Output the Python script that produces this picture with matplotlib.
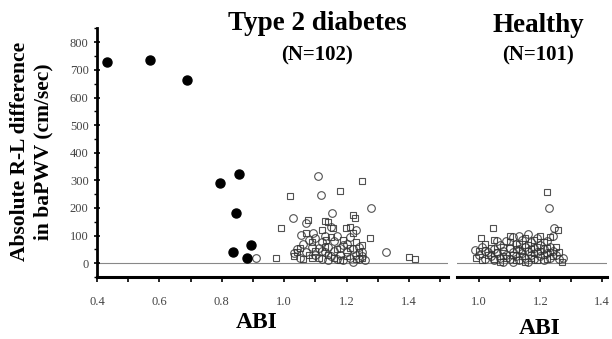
import numpy as np
import matplotlib
matplotlib.use('Agg')
import matplotlib.pyplot as plt
from matplotlib.ticker import MultipleLocator, FixedLocator

plt.rcParams['font.family'] = ['Liberation Serif', 'DejaVu Serif']

# type 2 diabetes, ABI < 0.9 (filled)
dm_low_x = [0.432, 0.571, 0.688, 0.795, 0.855, 0.844, 0.837, 0.894, 0.880]
dm_low_y = [729, 735, 664, 290, 322, 183, 42, 65, 18]

# type 2 diabetes, open circles
dm_circ_x = [0.911, 1.108, 1.118, 1.279, 1.028, 1.327, 1.153, 1.071, 1.055, 1.092,
             1.03, 1.04, 1.05, 1.06, 1.07, 1.08, 1.09, 1.10, 1.10, 1.11,
             1.12, 1.12, 1.13, 1.13, 1.14, 1.14, 1.15, 1.15, 1.16, 1.16,
             1.17, 1.18, 1.18, 1.19, 1.20, 1.20, 1.21, 1.21, 1.22, 1.22,
             1.23, 1.23, 1.24, 1.24, 1.25, 1.25, 1.26, 1.17, 1.12, 1.19]
dm_circ_y = [18, 316, 247, 199, 163, 42, 181, 145, 103, 109,
             35, 50, 20, 70, 40, 85, 60, 30, 90, 55,
             15, 75, 40, 100, 10, 60, 25, 130, 45, 80,
             15, 55, 30, 10, 40, 70, 20, 95, 50, 5,
             30, 120, 15, 60, 40, 25, 10, 100, 45, 65]

# type 2 diabetes, open squares
dm_sq_x = [0.975, 1.02, 1.18, 1.25, 0.991, 1.274, 1.40, 1.418, 1.22, 1.226,
           1.199, 1.157, 1.13, 1.076, 1.135,
           1.03, 1.04, 1.05, 1.06, 1.07, 1.08, 1.09, 1.10, 1.11, 1.12,
           1.13, 1.14, 1.15, 1.16, 1.17, 1.18, 1.19, 1.20, 1.21, 1.22,
           1.23, 1.23, 1.24, 1.25, 1.25, 1.14, 1.21, 1.09]
dm_sq_y = [18, 244, 262, 296, 127, 91, 24, 14, 175, 163,
           127, 127, 151, 157, 84,
           25, 40, 55, 15, 110, 30, 75, 45, 20, 120,
           60, 30, 95, 20, 50, 10, 85, 25, 55, 110,
           15, 75, 40, 20, 65, 150, 130, 20]

# healthy, open circles
h_circ_x = [0.987, 1.229, 1.245, 1.272,
            1.00, 1.01, 1.02, 1.03, 1.04, 1.05, 1.05, 1.06, 1.07, 1.07,
            1.08, 1.08, 1.09, 1.09, 1.10, 1.10, 1.11, 1.11, 1.12, 1.12,
            1.13, 1.13, 1.14, 1.14, 1.15, 1.15, 1.16, 1.16, 1.17, 1.17,
            1.18, 1.18, 1.19, 1.19, 1.20, 1.20, 1.21, 1.21, 1.22, 1.22,
            1.23, 1.23, 1.24, 1.25, 1.26, 1.06, 1.13, 1.16, 1.24, 1.02, 1.11]
h_circ_y = [48, 199, 127, 18,
            30, 60, 15, 40, 25, 10, 50, 35, 20, 65,
            45, 5, 30, 80, 15, 55, 40, 95, 25, 70,
            10, 50, 35, 85, 20, 60, 5, 45, 30, 75,
            15, 55, 40, 90, 25, 65, 10, 50, 35, 80,
            20, 60, 45, 30, 15, 80, 100, 105, 100, 45, 5]

# healthy, open squares
h_sq_x = [1.22, 1.256, 1.046, 1.009,
          0.99, 1.00, 1.01, 1.02, 1.03, 1.04, 1.05, 1.06, 1.07, 1.08,
          1.09, 1.10, 1.11, 1.12, 1.12, 1.13, 1.14, 1.14, 1.15, 1.15,
          1.16, 1.17, 1.17, 1.18, 1.18, 1.19, 1.19, 1.20, 1.20, 1.21,
          1.21, 1.22, 1.22, 1.23, 1.23, 1.24, 1.25, 1.26, 1.08, 1.10, 1.27, 1.05]
h_sq_y = [259, 121, 127, 91,
          20, 45, 10, 70, 30, 55, 15, 40, 5, 60,
          20, 75, 30, 50, 10, 70, 25, 45, 90, 5,
          65, 20, 50, 85, 35, 10, 60, 45, 100, 30,
          75, 15, 55, 40, 95, 25, 60, 40, 25, 100, 5, 85]

fig = plt.figure(figsize=(6.12, 3.39), dpi=100)
ax1 = fig.add_axes([0.1585, 0.183, 0.5735, 0.733])
ax2 = fig.add_axes([0.7467, 0.183, 0.245, 0.733])

open_kw = dict(linestyle='none', markerfacecolor='none', markeredgecolor='#333333',
               markeredgewidth=0.8, alpha=0.85)

for ax in (ax1, ax2):
    ax.axhline(0, color='#888888', lw=0.8, zorder=1)
    ax.set_ylim(-50, 850)
    for s in ('top', 'right'):
        ax.spines[s].set_visible(False)
    ax.spines['bottom'].set_linewidth(2.2)
    ax.spines['left'].set_linewidth(2.0)
    ax.xaxis.set_major_locator(MultipleLocator(0.1))
    ax.tick_params(axis='x', direction='out', length=3.5, width=1.2,
                   labelsize=9, labelcolor='#444444', pad=10)
    ax.set_facecolor('none')

# diabetes panel
ax1.plot(dm_circ_x, dm_circ_y, 'o', markersize=5.5, **open_kw)
ax1.plot(dm_sq_x, dm_sq_y, 's', markersize=5.0, **open_kw)
ax1.plot(dm_low_x, dm_low_y, 'o', color='black', markersize=6.5)
ax1.set_xlim(0.4, 1.525)
ax1.xaxis.set_major_locator(FixedLocator(np.round(np.arange(0.4, 1.51, 0.1), 1)))
ax1.set_xticklabels(['0.4', '', '0.6', '', '0.8', '', '1.0', '', '1.2', '', '1.4', ''])
ax1.set_yticks(np.arange(0, 801, 100))
ax1.yaxis.set_minor_locator(MultipleLocator(50))
ax1.tick_params(axis='y', which='major', direction='inout', length=5, width=1.2,
                labelsize=9, labelcolor='#444444')
ax1.tick_params(axis='y', which='minor', direction='out', length=2.5, width=1.0)

# healthy panel
ax2.plot(h_circ_x, h_circ_y, 'o', markersize=5.5, **open_kw)
ax2.plot(h_sq_x, h_sq_y, 's', markersize=5.0, **open_kw)
ax2.set_xlim(0.93, 1.415)
ax2.xaxis.set_major_locator(FixedLocator([1.0, 1.1, 1.2, 1.3, 1.4]))
ax2.set_xticklabels(['1.0', '', '1.2', '', '1.4'])
ax2.spines['left'].set_visible(False)
ax2.set_yticks([])

fig.text(0.0515, 0.553, 'Absolute R-L difference\nin baPWV (cm/sec)', rotation=90,
         ha='center', va='center', fontsize=15.5, fontweight='bold', linespacing=1.2)
fig.text(0.518, 0.932, 'Type 2 diabetes', ha='center', va='center',
         fontsize=19.5, fontweight='bold')
fig.text(0.518, 0.835, '(N=102)', ha='center', va='center',
         fontsize=15, fontweight='bold')
fig.text(0.879, 0.925, 'Healthy', ha='center', va='center',
         fontsize=19.5, fontweight='bold')
fig.text(0.879, 0.835, '(N=101)', ha='center', va='center',
         fontsize=15, fontweight='bold')
fig.text(0.42, 0.05, 'ABI', ha='center', va='center', fontsize=17, fontweight='bold')
fig.text(0.882, 0.03, 'ABI', ha='center', va='center', fontsize=17, fontweight='bold')

fig.savefig('out.png', dpi=100)
